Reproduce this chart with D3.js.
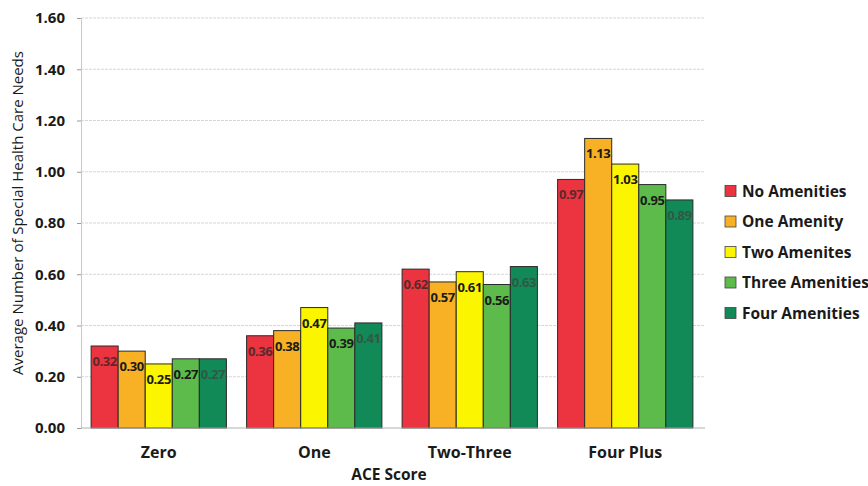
<!DOCTYPE html>
<html>
<head>
<meta charset="utf-8">
<script src="https://cdn.jsdelivr.net/npm/d3@7"></script>
<style>
  html, body { margin: 0; padding: 0; background: #fff; }
  svg { display: block; font-family: "Open Sans", Lato, "Noto Sans", sans-serif; }
</style>
</head>
<body>
<svg id="chart" width="868" height="486"></svg>
<script>
// ACE score groups and amenity series
const categories = ["Zero", "One", "Two-Three", "Four Plus"];
const seriesNames = ["No Amenities", "One Amenity", "Two Amenites", "Three Amenities", "Four Amenities"];
const noAmenities    = [0.32, 0.36, 0.62, 0.97];
const oneAmenity     = [0.30, 0.38, 0.57, 1.13];
const twoAmenities   = [0.25, 0.47, 0.61, 1.03];
const threeAmenities = [0.27, 0.39, 0.56, 0.95];
const fourAmenities  = [0.27, 0.41, 0.63, 0.89];
const yTicks = [0, 0.2, 0.4, 0.6, 0.8, 1.0, 1.2, 1.4, 1.6];

const seriesValues = [noAmenities, oneAmenity, twoAmenities, threeAmenities, fourAmenities];
const colors = ["#ec3340", "#f8b024", "#fbf500", "#5dbb4b", "#128a58"];
const labelColors = ["#5a2a2a", "#1a1a1a", "#1a1a1a", "#1a1a1a", "#2e5a44"];
const FONT = "'Open Sans', Lato, sans-serif";

const svg = d3.select("#chart");
const margin = { left: 81, right: 165, top: 18, bottom: 58 };
const width = 868 - margin.left - margin.right;
const height = 486 - margin.top - margin.bottom;

const g = svg.append("g").attr("transform", `translate(${margin.left},${margin.top})`);

const x0 = d3.scaleBand().domain(categories).range([0, width]).paddingInner(0.13).paddingOuter(0.065);
const x1 = d3.scaleBand().domain(seriesNames).range([0, x0.bandwidth()]).padding(0);
const y = d3.scaleLinear().domain([0, 1.6]).range([height, 0]);

// gridlines
g.append("g")
  .selectAll("line")
  .data(yTicks.slice(1))
  .join("line")
  .attr("x1", 0).attr("x2", width + 2)
  .attr("y1", d => y(d)).attr("y2", d => y(d))
  .attr("stroke", "#d6d6d6").attr("stroke-width", 1)
  .attr("stroke-dasharray", "3,1");

// y axis
const yAxis = g.append("g")
  .call(d3.axisLeft(y).tickValues(yTicks).tickFormat(d3.format(".2f")).tickSize(4).tickPadding(12));
yAxis.select(".domain").attr("stroke", "#c8c8c8");
yAxis.selectAll(".tick line").attr("stroke", "#999");
yAxis.selectAll("text")
  .attr("font-size", 15).attr("font-weight", "bold").attr("fill", "#1a1a1a")
  .attr("font-family", FONT);

// bars
const groups = g.append("g")
  .selectAll("g")
  .data(categories)
  .join("g")
  .attr("transform", d => `translate(${x0(d)},0)`);

const cells = groups.selectAll("g")
  .data((c, ci) => seriesNames.map((s, si) => ({ s, si, v: seriesValues[si][ci] })))
  .join("g");

cells.append("rect")
  .attr("x", d => x1(d.s))
  .attr("y", d => y(d.v))
  .attr("width", x1.bandwidth())
  .attr("height", d => height - y(d.v))
  .attr("fill", d => colors[d.si])
  .attr("stroke", "#2a2a2a")
  .attr("stroke-width", 1);

cells.append("text")
  .attr("x", d => x1(d.s) + x1.bandwidth() / 2)
  .attr("y", d => y(d.v) + 20)
  .attr("text-anchor", "middle")
  .attr("font-size", 13)
  .attr("font-weight", "bold")
  .attr("letter-spacing", -0.4)
  .attr("fill", d => labelColors[d.si])
  .text(d => d.v.toFixed(2));

// baseline
g.append("line")
  .attr("x1", 0).attr("x2", width + 2)
  .attr("y1", height).attr("y2", height)
  .attr("stroke", "#b0b0b0");

// x axis labels
g.append("g")
  .selectAll("text")
  .data(categories)
  .join("text")
  .attr("x", d => x0(d) + x0.bandwidth() / 2)
  .attr("y", height + 30)
  .attr("text-anchor", "middle")
  .attr("font-size", 16).attr("font-weight", "bold").attr("fill", "#1a1a1a")
  .text(d => d);

// axis titles
svg.append("text")
  .attr("x", margin.left + width / 2 - 3)
  .attr("y", 480)
  .attr("text-anchor", "middle")
  .attr("font-size", 15.5).attr("font-weight", "bold").attr("fill", "#1a1a1a")
  .text("ACE Score");

svg.append("text")
  .attr("transform", `translate(23,${margin.top + height / 2 - 10}) rotate(-90)`)
  .attr("text-anchor", "middle")
  .attr("font-size", 15).attr("fill", "#1a1a1a")
  .text("Average Number of Special Health Care Needs");

// legend
const legend = svg.append("g").attr("transform", "translate(725,191)");
const items = legend.selectAll("g")
  .data(seriesNames)
  .join("g")
  .attr("transform", (d, i) => `translate(0,${i * 30.5})`);
items.append("rect")
  .attr("x", 0).attr("y", -5.5).attr("width", 11).attr("height", 11)
  .attr("fill", (d, i) => colors[i]).attr("stroke", "#444").attr("stroke-width", 0.8);
items.append("text")
  .attr("x", 17).attr("y", 5.5)
  .attr("font-size", 15.5).attr("font-weight", "bold").attr("fill", "#1a1a1a")
  .text(d => d);
</script>
</body>
</html>
